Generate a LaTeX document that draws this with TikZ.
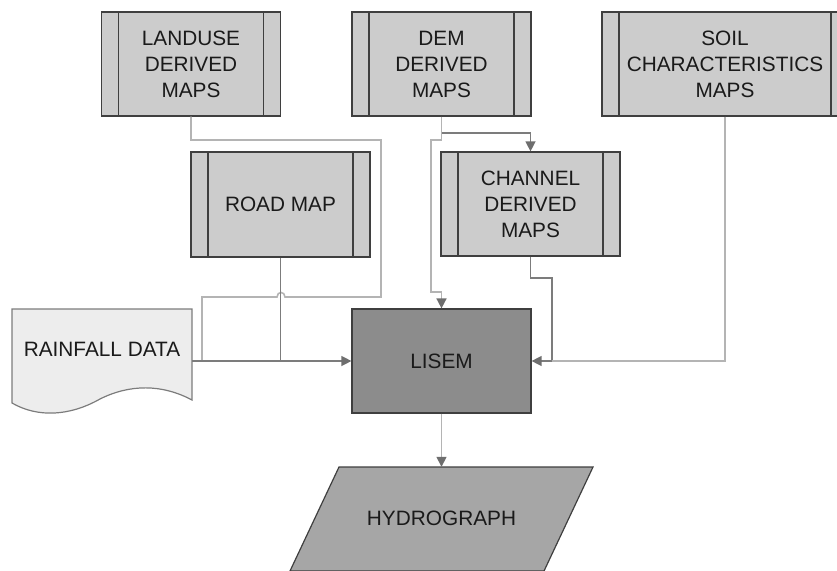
\documentclass[tikz,border=0pt]{standalone}
\usepackage{fontspec}
\setmainfont{Liberation Sans}
\usetikzlibrary{arrows.meta}

\definecolor{boxfill}{HTML}{CCCCCC}
\definecolor{boxdraw}{HTML}{3F3F3F}
\definecolor{corefill}{HTML}{8C8C8C}
\definecolor{outfill}{HTML}{A6A6A6}
\definecolor{rainfill}{HTML}{EDEDED}
\definecolor{paleline}{HTML}{B4B4B4}
\definecolor{greyline}{HTML}{7C7C7C}
\definecolor{tipgrey}{HTML}{6E6E6E}
\definecolor{inktext}{HTML}{1A1A1A}

\begin{document}
\begin{tikzpicture}[x=1pt,y=-1pt,
  every node/.style={font=\fontsize{20.8pt}{26pt}\selectfont, text=inktext, align=center, inner sep=0pt},
  procbox/.style={draw=boxdraw, fill=boxfill, line width=1.2pt,
    minimum width=179pt, minimum height=104pt,
    path picture={
      \draw[boxdraw, line width=1.2pt]
        ([xshift=17pt]path picture bounding box.north west) --
        ([xshift=17pt]path picture bounding box.south west);
      \draw[boxdraw, line width=1.2pt]
        ([xshift=-17pt]path picture bounding box.north east) --
        ([xshift=-17pt]path picture bounding box.south east);
    }},
  corebox/.style={draw=boxdraw, fill=corefill, line width=1.2pt,
    minimum width=179pt, minimum height=104pt},
  plain/.style={minimum width=180pt, minimum height=80pt},
  paleflow/.style={draw=paleline, line width=1.6pt},
  greyflow/.style={draw=greyline, line width=1.3pt},
  tip/.style={-{Triangle[width=10pt,length=10pt,color=tipgrey]}}
]
\useasboundingbox (0,0) rectangle (837,570);
\clip (0,0) rectangle (837,570);

% input maps
\node[procbox] (landuse) at (191,64) {LANDUSE\\DERIVED\\MAPS};
\node[procbox] (dem) at (441.5,64) {DEM\\DERIVED\\MAPS};
\node[procbox, minimum width=246pt] (soil) at (725,64) {SOIL\\CHARACTERISTICS\\MAPS};
\node[procbox, minimum height=105pt] (road) at (280.5,204.5) {ROAD MAP};
\node[procbox] (channel) at (530.5,204) {CHANNEL\\DERIVED\\MAPS};

% model
\node[corebox] (lisem) at (441.5,361) {LISEM};

% rainfall document shape
\fill[rainfill, draw=greyline, line width=1.2pt]
  (12,309) -- (192,309) -- (192,400)
  .. controls (162,384) and (130,384) .. (100,399)
  .. controls (70,416) and (38,418) .. (12,403) -- cycle;
\node[plain] (rain) at (102,349) {RAINFALL DATA};

% output parallelogram
\fill[outfill, draw=boxdraw, line width=1.2pt]
  (339,467) -- (593,467) -- (544,571) -- (290,571) -- cycle;
\node[minimum width=200pt, minimum height=103pt] (hydro) at (441.5,518.5) {HYDROGRAPH};

% connectors
\coordinate (rainjoin) at (202,361);
\coordinate (rightjoin) at (552,361);

\draw[paleflow] (landuse.south) |- (381,140) -- (381,297) -- (285,297)
  .. controls (285,291) and (277,291) .. (277,297) -- (202,297) -- (rainjoin);
\draw[greyflow] (road.south) -- (road.south |- lisem.west);
\draw[greyflow, tip] (rain.east |- lisem.west) -- (lisem.west);

\draw[greyflow, tip] (dem.south) |- (530.5,133) -- (channel.north);
\draw[paleflow, tip] (dem.south) |- (431,140) |- (441.5,292) -- (lisem.north);

\draw[greyflow, tip] (channel.south) |- (552,278) |- (lisem.east);
\draw[paleflow] (soil.south) |- (rightjoin);

\draw[paleflow, tip] (lisem.south) -- (hydro.north);
\end{tikzpicture}
\end{document}
